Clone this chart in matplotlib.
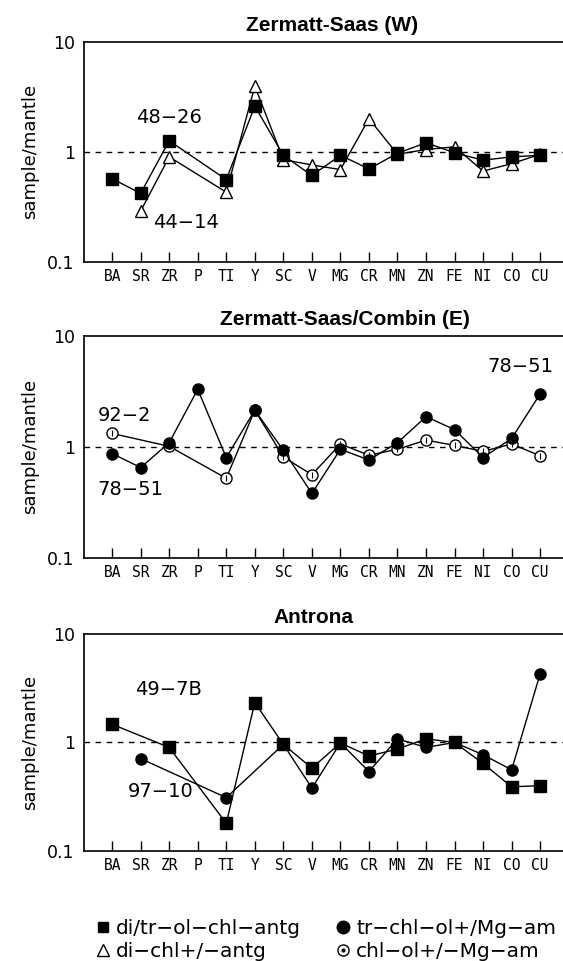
import matplotlib
matplotlib.use("Agg")
import matplotlib.pyplot as plt
from matplotlib.lines import Line2D
import numpy as np

# element order along the x axis
elements = ["BA", "SR", "ZR", "P", "TI", "Y", "SC", "V", "MG", "CR",
            "MN", "ZN", "FE", "NI", "CO", "CU"]
nan = np.nan

# Zermatt-Saas (W)
zsw_48_26 = [0.57, 0.42, 1.26, nan, 0.56, 2.6, 0.93, 0.61, 0.93, 0.70,
             0.97, 1.21, 0.98, 0.84, 0.90, 0.93]
zsw_44_14 = [nan, 0.29, 0.90, nan, 0.43, 3.95, 0.85, 0.76, 0.69, 2.0,
             0.95, 1.05, 1.11, 0.67, 0.78, 0.95]

# Zermatt-Saas/Combin (E)
zsc_78_51 = [0.87, 0.65, 1.09, 3.3, 0.80, 2.14, 0.93, 0.38, 0.95, 0.76,
             1.09, 1.87, 1.43, 0.80, 1.19, 3.0]
zsc_92_2 = [1.32, nan, 1.01, nan, 0.52, 2.14, 0.81, 0.56, 1.06, 0.84,
            0.95, 1.15, 1.03, 0.91, 1.06, 0.83]

# Antrona
ant_49_7b = [1.47, nan, 0.90, nan, 0.18, 2.33, 0.96, 0.58, 0.99, 0.75,
             0.87, 1.08, 1.0, 0.64, 0.39, 0.40]
ant_97_10 = [nan, 0.71, nan, nan, 0.31, nan, 0.96, 0.38, 0.99, 0.54,
             1.08, 0.90, 1.0, 0.77, 0.56, 4.3]

legend_labels = ["di/tr−ol−chl−antg", "di−chl+/−antg",
                 "tr−chl−ol+/Mg−am", "chl−ol+/−Mg−am"]

plt.rcParams['font.family'] = ['DejaVu Sans']

sq = dict(marker='s', color='black', mfc='black', mec='black', ms=8.5, lw=1)
tri = dict(marker='^', color='black', mfc='white', mec='black', ms=8.5, lw=1, mew=1)
fc = dict(marker='o', color='black', mfc='black', mec='black', ms=8, lw=1)
oc = dict(marker='o', color='black', mfc='white', mec='black', ms=8, lw=1, mew=1)


def plot_series(ax, vals, style):
    x = np.arange(len(elements))
    y = np.array(vals, dtype=float)
    ok = ~np.isnan(y)
    ax.plot(x[ok], y[ok], **style)
    if style is oc:
        # small centre mark inside the open circles
        ax.plot(x[ok], y[ok], ls='none', marker='|', ms=4, mew=0.8, color='black')


def setup(ax, title, tx):
    ax.set_yscale('log')
    ax.set_ylim(0.1, 10)
    ax.set_xlim(-0.97, 15.8)
    ax.set_yticks([0.1, 1, 10])
    ax.set_yticklabels(["0.1", "1", "10"])
    ax.yaxis.set_minor_locator(matplotlib.ticker.NullLocator())
    ax.set_xticks(np.arange(len(elements)))
    ax.set_xticklabels(elements, family='DejaVu Sans Mono', fontsize=10.5)
    ax.tick_params(axis='x', direction='in', length=7, width=1, pad=5)
    ax.tick_params(axis='y', length=0, pad=7, labelsize=12.5)
    ax.spines['right'].set_visible(False)
    for s in ['left', 'top', 'bottom']:
        ax.spines[s].set_linewidth(1.2)
    ax.axhline(1, color='black', lw=1, ls=(0, (4, 4)), zorder=0)
    ax.set_ylabel("sample/mantle", fontsize=13)
    ax.yaxis.set_label_coords(-0.095, 0.5)
    ax.set_title(title, fontsize=15, fontweight='bold', x=tx, pad=8,
                 family='Liberation Sans')


fig = plt.figure(figsize=(5.63, 9.61), dpi=100)
ax1 = fig.add_axes([0.150, 0.7274, 0.85, 0.2292])
ax2 = fig.add_axes([0.150, 0.4197, 0.85, 0.2307])
ax3 = fig.add_axes([0.150, 0.1145, 0.85, 0.2258])

setup(ax1, "Zermatt-Saas (W)", 0.518)
plot_series(ax1, zsw_44_14, tri)
plot_series(ax1, zsw_48_26, sq)
ax1.text(2.0, 2.03, "48−26", ha='center', va='center', fontsize=14)
ax1.text(2.6, 0.228, "44−14", ha='center', va='center', fontsize=14)

setup(ax2, "Zermatt-Saas/Combin (E)", 0.545)
plot_series(ax2, zsc_92_2, oc)
plot_series(ax2, zsc_78_51, fc)
ax2.text(0.44, 1.93, "92−2", ha='center', va='center', fontsize=14)
ax2.text(0.63, 0.41, "78−51", ha='center', va='center', fontsize=14)
ax2.text(14.3, 5.35, "78−51", ha='center', va='center', fontsize=14)

setup(ax3, "Antrona", 0.478)
plot_series(ax3, ant_97_10, fc)
plot_series(ax3, ant_49_7b, sq)
ax3.text(1.98, 3.06, "49−7B", ha='center', va='center', fontsize=14)
ax3.text(1.71, 0.35, "97−10", ha='center', va='center', fontsize=14)

dot = Line2D([], [], ls='none', marker='o', mfc='black', mec='black', ms=2)
handles = [
    Line2D([], [], ls='none', marker='s', mfc='black', mec='black', ms=7),
    Line2D([], [], ls='none', marker='^', mfc='white', mec='black', ms=8),
    Line2D([], [], ls='none', marker='o', mfc='black', mec='black', ms=9),
    (Line2D([], [], ls='none', marker='o', mfc='white', mec='black', ms=8), dot),
]
fig.legend(handles, legend_labels, ncol=2, frameon=False, fontsize=14.5,
           loc='center', bbox_to_anchor=(0.58, 0.0215), handlelength=0.6,
           handletextpad=0.35, columnspacing=1.8, labelspacing=0.2,
           borderpad=0)

fig.savefig("out.png", dpi=100)
